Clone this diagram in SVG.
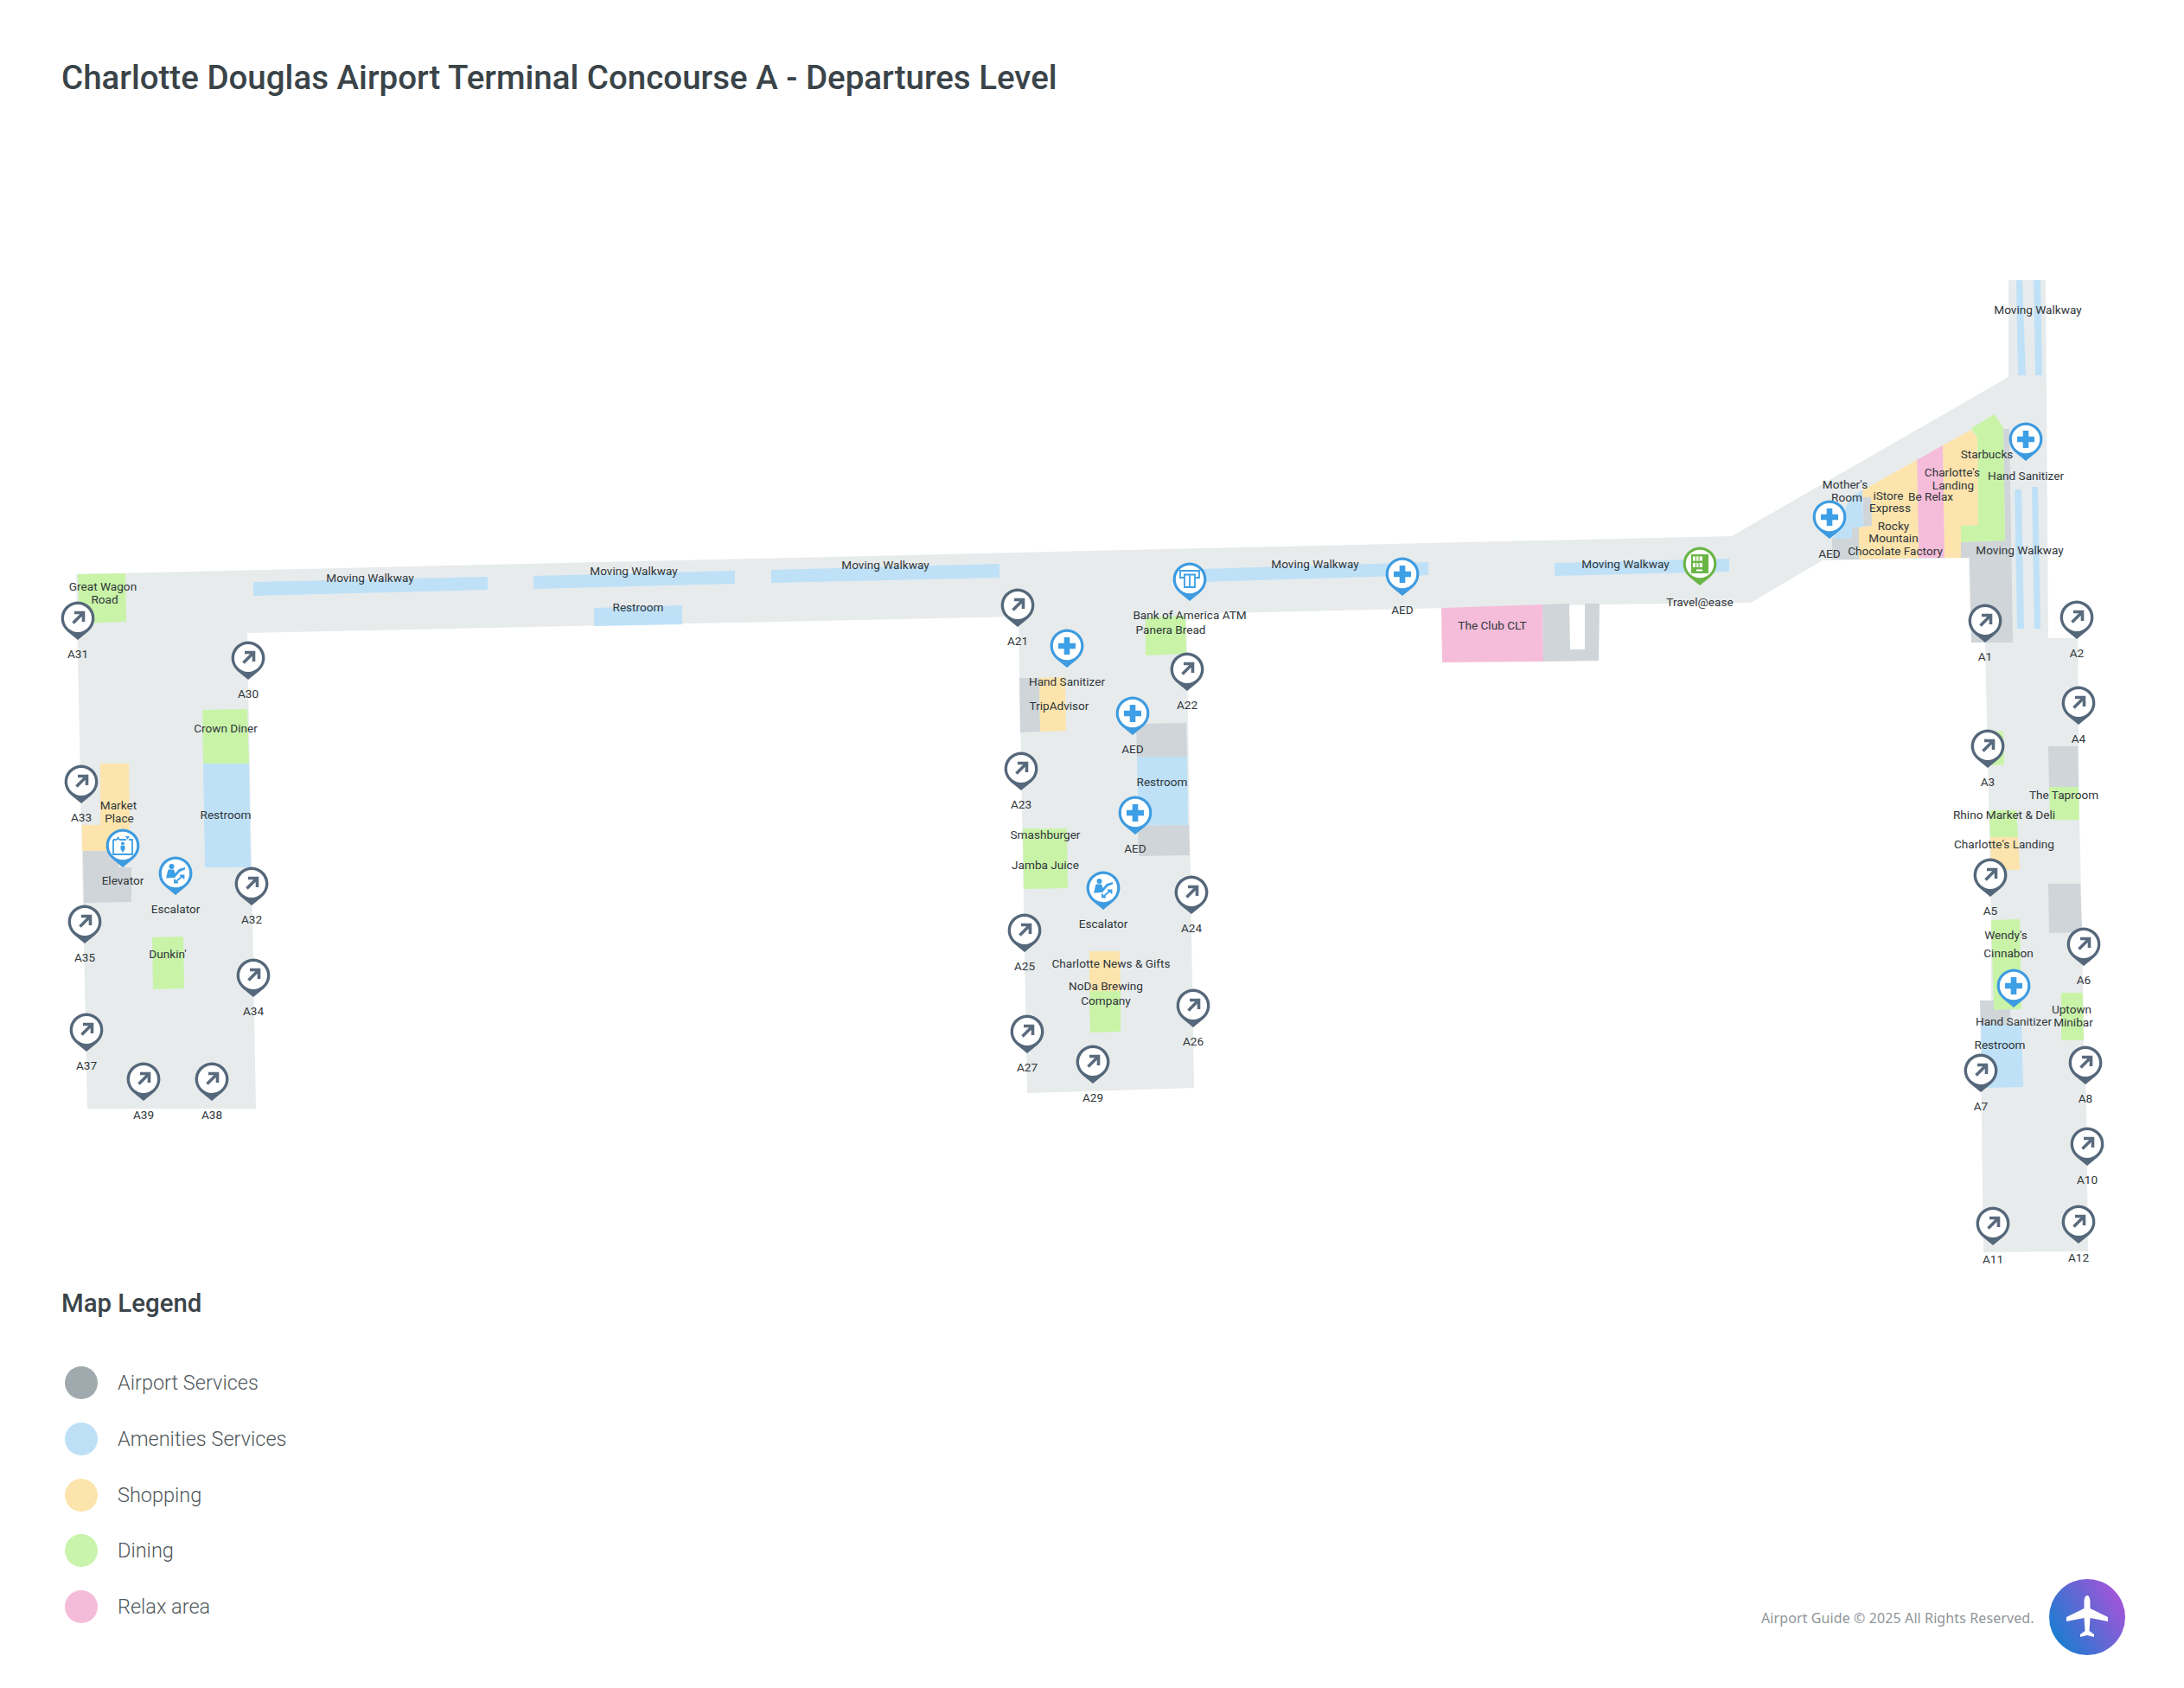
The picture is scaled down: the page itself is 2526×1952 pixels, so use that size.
<svg xmlns="http://www.w3.org/2000/svg" width="2526" height="1952" viewBox="0 0 2526 1952">
<style>
text{font-family:Roboto,"Liberation Sans",sans-serif}
.l{font-size:13.6px;fill:#30363a;text-anchor:middle}
.floor{fill:#e7ebec}.g{fill:#cfd5d8}.b{fill:#bfe1f8}.y{fill:#fde4ac}.d{fill:#c9f4a8}.p{fill:#f5bdd9}
.leg{font-size:23.5px;font-weight:300;fill:#50585c}
.ga{fill:none;stroke:#5a6b7e;stroke-width:3.6}
.ic{fill:#3d9fe6}
.icl{fill:none;stroke:#3d9fe6;stroke-width:1.8}
</style>
<defs>
<linearGradient id="lg" x1="0" y1="0.85" x2="1" y2="0.25"><stop offset="0" stop-color="#0f80d0"/><stop offset="1" stop-color="#a853d8"/></linearGradient>
<path id="drop" d="M0,25 L-12,15.2 A19.4,19.4 0 1 1 12,15.2 Z"/>
<g id="gate"><use href="#drop" fill="#55677a"/><circle r="16" fill="#fff"/><path class="ga" d="M-5.5,5.5 L6,-6 M-4,-6.5 H6.5 V4"/></g>
<g id="bp"><use href="#drop" fill="#3d9be0"/><circle r="16.2" fill="#fff"/></g>
<g id="aed"><use href="#bp"/><path class="ic" d="M-3.3,-10 H3.3 V-3.3 H10 V3.3 H3.3 V10 H-3.3 V3.3 H-10 V-3.3 H-3.3 Z"/></g>
<g id="esc"><use href="#bp"/><circle cx="-4.5" cy="-8" r="3" class="ic"/><path class="ic" d="M-8.5,-4.5 L-2,-4.5 L-0.5,0 L4,-5 L11,-7 V-4.5 L5,-2 L-1,5 L-11,5.5 Z"/><path class="icl" d="M-1,10.5 L9,2.5 M5,2.5 H9.5 V6.5 M-1,6.5 V10.5 H3"/></g>
<g id="elev"><use href="#bp"/><path class="icl" d="M-11,-7 H-7 M-4,-7 H4 M7,-7 H11 V10 H-11 V-7"/><path class="ic" d="M-2,-2.5 a2,2 0 1 1 4,0 a2,2 0 1 1 -4,0 M-2.5,0 H2.5 V4 L0,8 L-2.5,4 Z M-8,-7 L-5.5,-11 L-3,-7 Z M3,-11 H8 L5.5,-7 Z"/></g>
<g id="atm"><use href="#bp"/><path class="icl" d="M-7,-2 H-11 V-10 H11 V-2 H7 M-7,-5.5 H7 M-6,-5.5 V9 H6 V-5.5 M0,-5.5 V9"/></g>
<g id="vend"><use href="#drop" fill="#6ab545"/><circle r="16.2" fill="#fff"/><rect x="-10" y="-11" width="20" height="22" fill="#6ab545"/><path fill="#fff" d="M-8,-8.5 h11 v5 h-11 Z M-8,-1 h11 v5 h-11 Z M-4,6.5 h7 v2 h-7 Z"/><path fill="none" stroke="#6ab545" stroke-width="1.2" d="M-4.5,-8.5 v5 M-1,-8.5 v5 M-4.5,-1 v5 M-1,-1 v5"/></g>
</defs>
<rect width="2526" height="1952" fill="#fff"/>
<text id="title" x="71" y="103" font-size="38.5" font-weight="500" fill="#3a4449">Charlotte Douglas Airport Terminal Concourse A - Departures Level</text>
<g id="map">
<polygon class="floor" points="88,664 2003,620 2323,436 2323,324 2366,324 2369,738 2403,738 2405,947 2408,1073 2410,1203 2413,1280 2415,1447 2294,1448 2290,1157 2303,1157 2303,1060 2296,743 2280,743 2277,645 2108,648 2025,697 1850,699 1372,710 1381,1258 1188,1264 1178,713 286,732 296,1282 101,1282"/>
<polygon class="b" points="293,673 564,667 564,682 293,689"/>
<polygon class="b" points="617,666 850,660 850,675 617,681"/>
<polygon class="b" points="892,659 1156,652 1156,668 892,674"/>
<polygon class="b" points="687,703 789,700 789,722 687,724"/>
<polygon class="b" points="1390,658 1652,650 1652,665 1390,673"/>
<polygon class="b" points="1798,651 2000,646 2000,661 1798,666"/>
<polygon class="b" points="2332,324 2339,324 2343,434 2334,434"/>
<polygon class="b" points="2352,324 2360,324 2362,434 2354,434"/>
<polygon class="b" points="2330,566 2338,566 2341,727 2333,727"/>
<polygon class="b" points="2350,563 2357,563 2360,727 2353,727"/>
<polygon class="d" points="90,664 145,663 146,719 92,721"/>
<polygon class="d" points="234,821 286,820 288,883 235,883"/>
<polygon class="b" points="235,883 288,883 290,1003 237,1003"/>
<polygon class="y" points="116,883 149,883 150,959 137,984 95,984 95,954 116,954"/>
<polygon class="g" points="96,984 137,984 137,1003 152,1003 152,1043 97,1044"/>
<polygon class="d" points="176,1084 212,1083 213,1143 177,1144"/>
<polygon class="d" points="1325,714 1371,712 1372,756 1325,758"/>
<polygon class="g" points="1179,784 1202,784 1203,846 1180,847"/>
<polygon class="y" points="1202,784 1232,783 1233,845 1203,846"/>
<polygon class="g" points="1314,837 1372,836 1373,875 1315,875"/>
<polygon class="b" points="1315,875 1373,875 1374,954 1317,955"/>
<polygon class="g" points="1316,955 1375,954 1376,989 1317,990"/>
<polygon class="d" points="1183,958 1234,958 1235,1027 1184,1028"/>
<polygon class="y" points="1260,1100 1295,1100 1296,1146 1260,1146"/>
<polygon class="d" points="1260,1146 1296,1146 1296,1193 1261,1194"/>
<polygon class="p" points="1667,703 1784,699 1785,765 1668,766"/>
<path class="g" d="M1784,699 L1815,698 L1816,751 H1833 L1833,698 L1850,698 L1849,764 L1785,765 Z"/>
<polygon class="g" points="2317,496 2324,496 2328,743 2280,743 2278,645 2268,645 2268,627 2319,625"/>
<polygon class="d" points="2280,495 2307,479 2317,495 2319,625 2268,627 2268,608 2288,607 2287,507"/>
<polygon class="y" points="2247,515 2280,497 2287,507 2288,607 2268,608 2268,645 2249,645"/>
<polygon class="p" points="2217,532 2247,515 2249,645 2219,645"/>
<polygon class="y" points="2154,567 2217,532 2219,645 2150,647 2150,610 2165,608 2164,575 2154,575"/>
<polygon class="g" points="2155,575 2164,575 2165,608 2150,609 2150,647 2119,647 2119,622 2142,622 2142,610 2155,609"/>
<polygon class="b" points="2140,575 2154,567 2155,609 2142,610 2142,622 2120,623"/>
<polygon class="d" points="2303,846 2317,846 2318,884 2304,885"/>
<polygon class="g" points="2369,863 2403,863 2404,910 2370,910"/>
<polygon class="d" points="2370,910 2404,910 2405,948 2371,948"/>
<polygon class="d" points="2301,937 2332,937 2334,968 2302,968"/>
<polygon class="y" points="2302,968 2334,968 2336,1006 2303,1006"/>
<polygon class="g" points="2369,1022 2406,1022 2408,1078 2370,1079"/>
<polygon class="d" points="2303,1064 2336,1063 2338,1167 2306,1168"/>
<polygon class="g" points="2290,1157 2306,1157 2306,1168 2325,1167 2325,1185 2291,1185"/>
<polygon class="b" points="2291,1185 2338,1185 2340,1257 2293,1258"/>
<polygon class="d" points="2384,1148 2409,1148 2410,1203 2384,1203"/>
</g>
<g id="area-labels" transform="translate(0,0.4)">
<text class="l" x="119" y="683">Great Wagon</text><text class="l" x="121" y="698">Road</text>
<text class="l" x="261" y="847">Crown Diner</text>
<text class="l" x="137" y="936">Market</text><text class="l" x="138" y="951">Place</text>
<text class="l" x="261" y="947">Restroom</text>
<text class="l" x="194" y="1108">Dunkin'</text>
<text class="l" x="428" y="673">Moving Walkway</text>
<text class="l" x="733" y="665">Moving Walkway</text>
<text class="l" x="1024" y="658">Moving Walkway</text>
<text class="l" x="738" y="707">Restroom</text>
<text class="l" x="1354" y="733">Panera Bread</text>
<text class="l" x="1225" y="821">TripAdvisor</text>
<text class="l" x="1344" y="909">Restroom</text>
<text class="l" x="1209" y="970">Smashburger</text>
<text class="l" x="1209" y="1005">Jamba Juice</text>
<text class="l" x="1285" y="1119">Charlotte News &amp; Gifts</text>
<text class="l" x="1279" y="1145">NoDa Brewing</text><text class="l" x="1279" y="1162">Company</text>
<text class="l" x="1521" y="657">Moving Walkway</text>
<text class="l" x="1880" y="657">Moving Walkway</text>
<text class="l" x="1726" y="728">The Club CLT</text>
<text class="l" x="2357" y="363">Moving Walkway</text>
<text class="l" x="2298" y="530">Starbucks</text>
<text class="l" x="2258" y="551">Charlotte's</text><text class="l" x="2259" y="566">Landing</text>
<text class="l" x="2134" y="565">Mother's</text><text class="l" x="2136" y="580">Room</text>
<text class="l" x="2184" y="578">iStore</text><text class="l" x="2186" y="592">Express</text>
<text class="l" x="2233" y="579">Be Relax</text>
<text class="l" x="2190" y="613">Rocky</text><text class="l" x="2190" y="627">Mountain</text><text class="l" x="2192" y="642">Chocolate Factory</text>
<text class="l" x="2336" y="641">Moving Walkway</text>
<text class="l" x="2387" y="924">The Taproom</text>
<text class="l" x="2318" y="947">Rhino Market &amp; Deli</text>
<text class="l" x="2318" y="981">Charlotte's Landing</text>
<text class="l" x="2320" y="1086">Wendy's</text>
<text class="l" x="2323" y="1107">Cinnabon</text>
<text class="l" x="2396" y="1172">Uptown</text><text class="l" x="2398" y="1187">Minibar</text>
<text class="l" x="2313" y="1213">Restroom</text>
</g>
<g id="gates">
<g id="A31" transform="translate(90,715)"><use href="#gate"/><text class="l" y="45.500">A31</text></g>
<g id="A30" transform="translate(287,761)"><use href="#gate"/><text class="l" y="45.500">A30</text></g>
<g id="A33" transform="translate(94,904)"><use href="#gate"/><text class="l" y="45.500">A33</text></g>
<g id="A32" transform="translate(291,1022)"><use href="#gate"/><text class="l" y="45.500">A32</text></g>
<g id="A35" transform="translate(98,1066)"><use href="#gate"/><text class="l" y="45.500">A35</text></g>
<g id="A34" transform="translate(293,1128)"><use href="#gate"/><text class="l" y="45.500">A34</text></g>
<g id="A37" transform="translate(100,1191)"><use href="#gate"/><text class="l" y="45.500">A37</text></g>
<g id="A39" transform="translate(166,1248)"><use href="#gate"/><text class="l" y="45.500">A39</text></g>
<g id="A38" transform="translate(245,1248)"><use href="#gate"/><text class="l" y="45.500">A38</text></g>
<g id="A21" transform="translate(1177,700)"><use href="#gate"/><text class="l" y="45.500">A21</text></g>
<g id="A22" transform="translate(1373,774)"><use href="#gate"/><text class="l" y="45.500">A22</text></g>
<g id="A23" transform="translate(1181,889)"><use href="#gate"/><text class="l" y="45.500">A23</text></g>
<g id="A24" transform="translate(1378,1032)"><use href="#gate"/><text class="l" y="45.500">A24</text></g>
<g id="A25" transform="translate(1185,1076)"><use href="#gate"/><text class="l" y="45.500">A25</text></g>
<g id="A26" transform="translate(1380,1163)"><use href="#gate"/><text class="l" y="45.500">A26</text></g>
<g id="A27" transform="translate(1188,1193)"><use href="#gate"/><text class="l" y="45.500">A27</text></g>
<g id="A29" transform="translate(1264,1228)"><use href="#gate"/><text class="l" y="45.500">A29</text></g>
<g id="A1" transform="translate(2296,718)"><use href="#gate"/><text class="l" y="45.500">A1</text></g>
<g id="A2" transform="translate(2402,714)"><use href="#gate"/><text class="l" y="45.500">A2</text></g>
<g id="A4" transform="translate(2404,813)"><use href="#gate"/><text class="l" y="45.500">A4</text></g>
<g id="A3" transform="translate(2299,863)"><use href="#gate"/><text class="l" y="45.500">A3</text></g>
<g id="A5" transform="translate(2302,1012)"><use href="#gate"/><text class="l" y="45.500">A5</text></g>
<g id="A6" transform="translate(2410,1092)"><use href="#gate"/><text class="l" y="45.500">A6</text></g>
<g id="A8" transform="translate(2412,1229)"><use href="#gate"/><text class="l" y="45.500">A8</text></g>
<g id="A7" transform="translate(2291,1238)"><use href="#gate"/><text class="l" y="45.500">A7</text></g>
<g id="A10" transform="translate(2414,1323)"><use href="#gate"/><text class="l" y="45.500">A10</text></g>
<g id="A11" transform="translate(2305,1415)"><use href="#gate"/><text class="l" y="45.500">A11</text></g>
<g id="A12" transform="translate(2404,1413)"><use href="#gate"/><text class="l" y="45.500">A12</text></g>
</g>
<g id="services">
<g id="elevator" transform="translate(142,978)"><use href="#elev"/><text class="l" y="45">Elevator</text></g>
<g id="escalator-w" transform="translate(203,1010)"><use href="#esc"/><text class="l" y="45.500">Escalator</text></g>
<g id="atm-boa" transform="translate(1376,670)"><use href="#atm"/><text class="l" y="45.500">Bank of America ATM</text></g>
<g id="sanitizer-c" transform="translate(1234,747)"><use href="#aed"/><text class="l" y="45.500">Hand Sanitizer</text></g>
<g id="aed-c1" transform="translate(1310,825)"><use href="#aed"/><text class="l" y="45.500">AED</text></g>
<g id="aed-c2" transform="translate(1313,940)"><use href="#aed"/><text class="l" y="45.500">AED</text></g>
<g id="escalator-c" transform="translate(1276,1027)"><use href="#esc"/><text class="l" y="45.500">Escalator</text></g>
<g id="aed-e" transform="translate(1622,664)"><use href="#aed"/><text class="l" y="45.500">AED</text></g>
<g id="travelease" transform="translate(1966,652)"><use href="#vend"/><text class="l" y="48.500">Travel@ease</text></g>
<g id="sanitizer-ne" transform="translate(2343,508)"><use href="#aed"/><text class="l" y="46.500">Hand Sanitizer</text></g>
<g id="aed-ne" transform="translate(2116,598)"><use href="#aed"/><text class="l" y="46.500">AED</text></g>
<g id="sanitizer-s" transform="translate(2329,1140)"><use href="#aed"/><text class="l" y="45.500">Hand Sanitizer</text></g>
</g>
<g id="legend">
<text x="71" y="1517" font-size="29.4" font-weight="500" fill="#3a4449">Map Legend</text>
<circle cx="94" cy="1599" r="19" fill="#a0aaae"/><text class="leg" x="136" y="1607">Airport Services</text>
<circle cx="94" cy="1664" r="19" fill="#bde0f7"/><text class="leg" x="136" y="1672">Amenities Services</text>
<circle cx="94" cy="1729" r="19" fill="#fde4ad"/><text class="leg" x="136" y="1737">Shopping</text>
<circle cx="94" cy="1793" r="19" fill="#c9f4ab"/><text class="leg" x="136" y="1801">Dining</text>
<circle cx="94" cy="1858" r="19" fill="#f4bcd9"/><text class="leg" x="136" y="1866">Relax area</text>
</g>
<g id="footer">
<text x="2037" y="1877" font-size="16" letter-spacing="0.1" fill="#8f9599" style="font-family:'Noto Sans',sans-serif">Airport Guide © 2025 All Rights Reserved.</text>
<circle cx="2414" cy="1870" r="44" fill="url(#lg)"/>
<path fill="#fff" d="M2414,1845 C2416.500,1845 2417.500,1849 2417.500,1853 L2417.500,1860 L2438,1870 L2438,1875 L2417.500,1871 L2416.500,1886 L2422,1890 L2422,1893 L2414,1891 L2406,1893 L2406,1890 L2411.500,1886 L2410.500,1871 L2390,1875 L2390,1870 L2410.500,1860 L2410.500,1853 C2410.500,1849 2411.500,1845 2414,1845 Z"/>
</g>
</svg>
